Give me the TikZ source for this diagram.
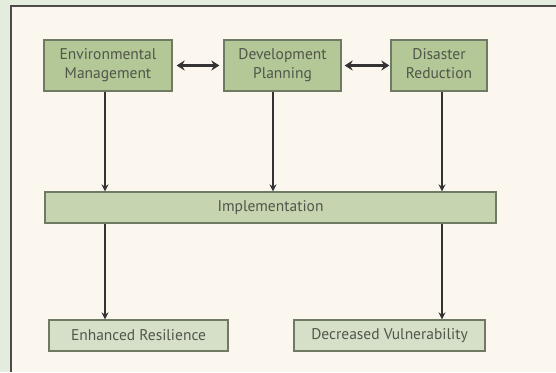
\documentclass[tikz,border=0pt]{standalone}
\usepackage{fontspec}
\setmainfont{PT Sans}
\usetikzlibrary{arrows.meta}
\definecolor{outerbg}{HTML}{E4ECDD}
\definecolor{panel}{HTML}{FBF7EF}
\definecolor{boxfill}{HTML}{B3C797}
\definecolor{implfill}{HTML}{C6D4B0}
\definecolor{lowfill}{HTML}{D6E0C8}
\definecolor{boxline}{HTML}{6E7A63}
\definecolor{txt}{HTML}{50564A}
\begin{document}
\begin{tikzpicture}[x=1pt,y=-1pt,
  basebox/.style={draw=boxline,line width=1.3pt,text=txt,align=center,font=\fontsize{15.5}{19}\selectfont,inner sep=0pt},
  topbox/.style={basebox,fill=boxfill},
  implbox/.style={basebox,fill=implfill},
  lowbox/.style={basebox,fill=lowfill},
  conn/.style={draw=black!80,line width=2pt,-{Stealth[length=7pt,width=7pt]}},
  dconn/.style={draw=black!80,line width=2.3pt,{Stealth[length=8pt,width=10pt]}-{Stealth[length=8pt,width=10pt]}}]
\fill[outerbg] (0,0) rectangle (556,372);
\useasboundingbox (0,0) rectangle (556,372);
\fill[panel] (11,6) rectangle (556,372);
\draw[black!70,line width=1.5pt] (11,372) -- (11,6) -- (556,6);
\node[topbox,minimum width=128pt,minimum height=51pt] (env) at (108,65.5) {\strut Environmental\\\strut Management};
\node[topbox,minimum width=117pt,minimum height=51pt] (dev) at (282.5,65.5) {\strut Development\\\strut Planning};
\node[topbox,minimum width=96pt,minimum height=51pt] (dis) at (439,65.5) {\strut Disaster\\\strut Reduction};
\node[implbox,minimum width=451pt,minimum height=31pt] (impl) at (270.5,207.5) {Implementation};
\node[lowbox,minimum width=179pt,minimum height=31pt] (res) at (138.5,335.5) {Enhanced Resilience};
\node[lowbox,minimum width=191pt,minimum height=31pt] (vul) at (389.5,335.5) {Decreased Vulnerability};
\draw[dconn] ([xshift=4pt]env.east) -- ([xshift=-4pt]dev.west);
\draw[dconn] ([xshift=3pt]dev.east) -- ([xshift=-1pt]dis.west);
\draw[conn] (env.south -| 105,0) -- (impl.north -| 105,0);
\draw[conn] (dev.south -| 273,0) -- (impl.north -| 273,0);
\draw[conn] (dis.south -| 442,0) -- (impl.north -| 442,0);
\draw[conn] (impl.south -| 105,0) -- (res.north -| 105,0);
\draw[conn] (impl.south -| 442,0) -- (vul.north -| 442,0);
\end{tikzpicture}
\end{document}
